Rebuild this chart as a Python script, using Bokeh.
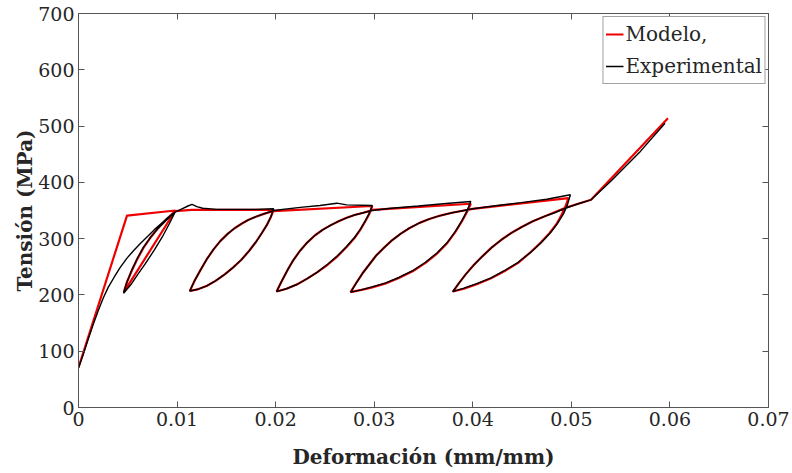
from bokeh.plotting import figure
from bokeh.models import Range1d, LinearAxis, FixedTicker
from bokeh.embed import file_html
from bokeh.resources import INLINE

# ---- data ----
x_ticks = [0, 0.01, 0.02, 0.03, 0.04, 0.05, 0.06, 0.07]
x_tick_labels = ["0", "0.01", "0.02", "0.03", "0.04", "0.05", "0.06", "0.07"]
y_ticks = [0, 100, 200, 300, 400, 500, 600, 700]
y_tick_labels = ["0", "100", "200", "300", "400", "500", "600", "700"]

# Modelo (red)
model_strain = [0, 0.00492, 0.00983,
                0.0046,
                0.0049, 0.0054, 0.0060, 0.0066, 0.0073, 0.0080, 0.0088, 0.0098,
                0.0115, 0.0198,
                0.0195, 0.0191, 0.0186, 0.0180, 0.0173, 0.0165, 0.0157, 0.0148, 0.0139, 0.0130, 0.0121, 0.0113,
                0.0118, 0.0124, 0.0130, 0.0137, 0.0144, 0.0151, 0.0158, 0.0165, 0.0172, 0.0180, 0.0188, 0.0198,
                0.0298,
                0.0295, 0.0291, 0.0286, 0.0280, 0.0272, 0.0263, 0.0253, 0.0242, 0.0232, 0.0222, 0.0211, 0.0201,
                0.0206, 0.0212, 0.0218, 0.0225, 0.0232, 0.0240, 0.0248, 0.0256, 0.0264, 0.0272, 0.0280, 0.0289, 0.0298,
                0.0398,
                0.0394, 0.0389, 0.0382, 0.0374, 0.0364, 0.0352, 0.0339, 0.0325, 0.0311, 0.0297, 0.0287, 0.0276,
                0.0282, 0.0288, 0.0295, 0.0302, 0.0310, 0.0318, 0.0327, 0.0336, 0.0346, 0.0356, 0.0367, 0.0379, 0.0391, 0.0400,
                0.0497,
                0.0494, 0.0490, 0.0485, 0.0478, 0.0469, 0.0458, 0.0446, 0.0432, 0.0418, 0.0404, 0.0391, 0.0380,
                0.0386, 0.0393, 0.0401, 0.0410, 0.0419, 0.0429, 0.0439, 0.0450, 0.0461, 0.0472, 0.0483, 0.0494, 0.0507, 0.0520,
                0.0598]
model_stress = [71, 341, 350,
                205,
                222, 243, 265, 284, 302, 317, 332, 349,
                351, 351,
                338, 324, 310, 294, 278, 262, 249, 236, 225, 216, 210, 207,
                226, 245, 263, 281, 296, 308, 318, 326, 333, 339, 344, 349,
                358,
                344, 331, 316, 301, 285, 269, 254, 240, 229, 219, 211, 206,
                224, 244, 262, 279, 293, 306, 316, 324, 331, 337, 342, 346, 351,
                362,
                347, 331, 311, 292, 274, 257, 242, 230, 220, 213, 209, 205,
                222, 238, 254, 270, 284, 297, 309, 319, 328, 335, 341, 346, 350, 353,
                372,
                357, 342, 326, 310, 293, 275, 257, 242, 229, 219, 211, 206,
                221, 237, 253, 269, 284, 298, 310, 321, 331, 339, 347, 355, 362, 369,
                514]

# Experimental (black)
exp_strain = [0, 0.0005, 0.0010, 0.0015, 0.0020, 0.0025, 0.0030, 0.0036, 0.0042, 0.0049,
              0.0056, 0.0063, 0.0070, 0.0077, 0.0084, 0.0091, 0.0098,
              0.0092, 0.0085, 0.0077, 0.0068, 0.0060, 0.0053, 0.00457,
              0.0049, 0.0054, 0.0060, 0.0066, 0.0073, 0.0080, 0.0088, 0.0098,
              0.0105, 0.0111, 0.01152, 0.0120, 0.0126, 0.0140, 0.0160, 0.0180, 0.0198,
              0.0195, 0.0191, 0.0186, 0.0180, 0.0173, 0.0165, 0.0157, 0.0148, 0.0139, 0.0130, 0.0121, 0.01128,
              0.0118, 0.0124, 0.0130, 0.0137, 0.0144, 0.0151, 0.0158, 0.0165, 0.0172, 0.0180, 0.0188, 0.0198,
              0.0225, 0.0245, 0.0262, 0.0272, 0.0298,
              0.0295, 0.0291, 0.0286, 0.0280, 0.0272, 0.0263, 0.0253, 0.0242, 0.0232, 0.0222, 0.0211, 0.0201,
              0.0206, 0.0212, 0.0218, 0.0225, 0.0232, 0.0240, 0.0248, 0.0256, 0.0264, 0.0272, 0.0280, 0.0289, 0.0298,
              0.0317, 0.0345, 0.0370, 0.0398,
              0.0394, 0.0389, 0.0382, 0.0374, 0.0364, 0.0352, 0.0339, 0.0325, 0.0311, 0.0297, 0.0287, 0.02762,
              0.0282, 0.0288, 0.0295, 0.0302, 0.0310, 0.0318, 0.0327, 0.0336, 0.0346, 0.0356, 0.0367, 0.0379, 0.0391, 0.0400,
              0.0425, 0.0449, 0.0475, 0.0499,
              0.0496, 0.0492, 0.0486, 0.0479, 0.0470, 0.0459, 0.0446, 0.0432, 0.0418, 0.0404, 0.0391, 0.03795,
              0.0386, 0.0393, 0.0401, 0.0410, 0.0419, 0.0429, 0.0439, 0.0450, 0.0461, 0.0472, 0.0483, 0.0494, 0.0507, 0.0520,
              0.0540, 0.0570, 0.0595]
exp_stress = [70, 95, 122, 148, 172, 194, 213, 231, 248, 265,
              279, 292, 304, 316, 327, 338, 347,
              326, 303, 280, 256, 236, 218, 203,
              222, 244, 266, 285, 302, 317, 331, 347,
              353, 358, 361, 357, 354, 352, 352, 352, 353,
              338, 324, 310, 294, 278, 262, 249, 236, 225, 216, 210, 207,
              226, 245, 263, 281, 296, 308, 318, 326, 333, 339, 344, 350,
              355.5, 359, 363, 360, 359,
              345, 332, 317, 302, 286, 270, 255, 240, 229, 219, 211, 206,
              224, 244, 262, 279, 293, 306, 316, 324, 331, 337, 342, 346, 350,
              354, 358, 362, 366,
              349, 332, 312, 293, 275, 258, 243, 231, 221, 214, 209, 205,
              222, 238, 254, 270, 284, 297, 309, 319, 328, 335, 341, 346, 350, 353,
              359, 364, 370, 378,
              360, 344, 327, 311, 294, 276, 258, 243, 230, 220, 212, 206,
              221, 237, 253, 269, 284, 298, 310, 321, 331, 339, 346, 354, 362, 369,
              402, 455, 505]

FONT = "DejaVu Serif"
TXT = "#262626"
AX = "#555555"

p = figure(width=792, height=473, x_range=Range1d(0, 0.07), y_range=Range1d(0, 700),
           output_backend="svg", toolbar_location=None,
           min_border_left=78, min_border_right=24, min_border_top=13, min_border_bottom=66)
p.background_fill_color = "white"
p.border_fill_color = "white"
p.outline_line_color = AX
p.xgrid.visible = False
p.ygrid.visible = False

p.line(model_strain, model_stress, line_color="#ee0000", line_width=2.2, legend_label="Modelo,")
p.line(exp_strain, exp_stress, line_color="black", line_width=1.4, legend_label="Experimental")

def style_axis(ax, ticks, labels, show_labels=True):
    ax.ticker = FixedTicker(ticks=ticks)
    if show_labels:
        ax.major_label_overrides = {t: l for t, l in zip(ticks, labels)}
    else:
        ax.major_label_overrides = {t: "" for t in ticks}
        ax.major_label_standoff = 0
    ax.major_tick_in = 6
    ax.major_tick_out = 0
    ax.minor_tick_line_color = None
    ax.axis_line_color = AX
    ax.major_tick_line_color = AX
    ax.major_label_text_font = FONT
    ax.major_label_text_font_size = "19px"
    ax.major_label_text_color = TXT
    ax.axis_label_text_font = FONT
    ax.axis_label_text_font_style = "bold"
    ax.axis_label_text_color = TXT
    ax.axis_label_text_font_size = "20px"

xa = p.xaxis[0]
ya = p.yaxis[0]
style_axis(xa, x_ticks, x_tick_labels)
style_axis(ya, y_ticks, y_tick_labels)
xa.axis_label = "Deformación (mm/mm)"
ya.axis_label = "Tensión (MPa)"
xa.major_label_standoff = 4
ya.major_label_standoff = 4
xa.axis_label_standoff = 16
ya.axis_label_standoff = -2

top = LinearAxis()
right = LinearAxis()
style_axis(top, x_ticks, x_tick_labels, show_labels=False)
style_axis(right, y_ticks, y_tick_labels, show_labels=False)
p.add_layout(top, "above")
p.add_layout(right, "right")

lg = p.legend[0]
lg.location = "top_right"
lg.margin = 3
lg.padding = 2
lg.spacing = 2
lg.glyph_width = 18
lg.glyph_height = 30
lg.label_height = 30
lg.label_standoff = 2
lg.label_text_font = FONT
lg.label_text_font_size = "20px"
lg.label_text_color = TXT
lg.border_line_color = "#444444"
lg.border_line_width = 1
lg.background_fill_color = "white"
lg.background_fill_alpha = 1

open("out.html", "w").write(file_html(p, INLINE))
